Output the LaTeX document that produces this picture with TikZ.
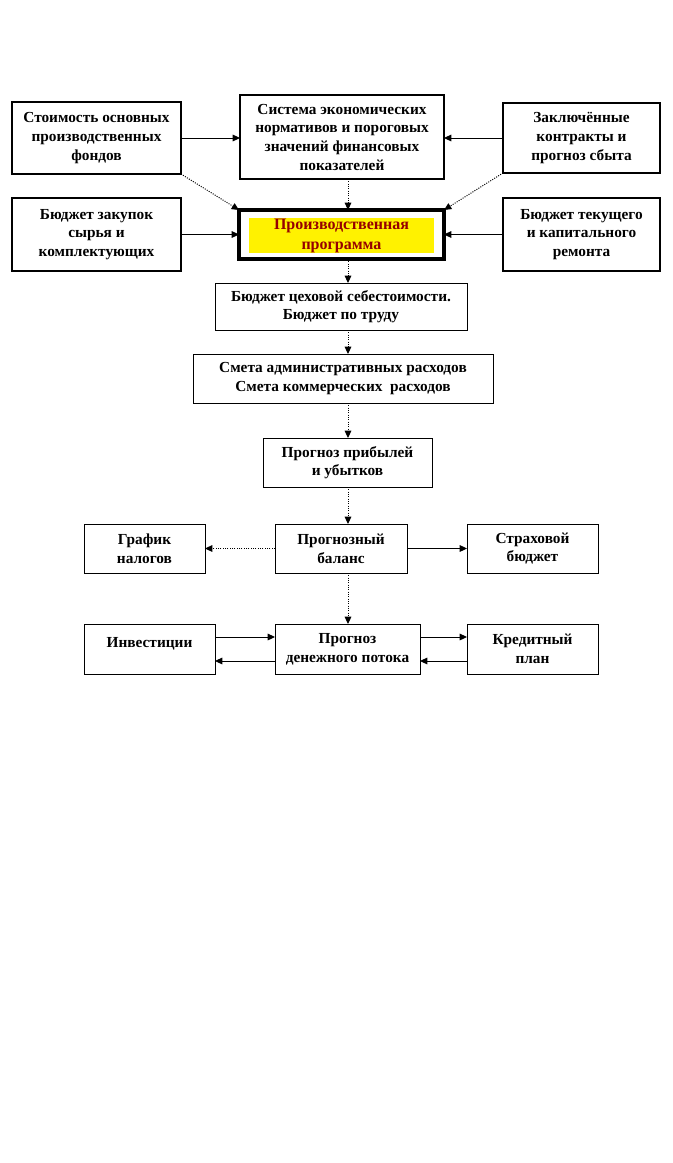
\documentclass[tikz,border=0pt]{standalone}
\usepackage{fontspec}
\setmainfont{Liberation Serif}
\usetikzlibrary{arrows.meta,calc}
\definecolor{progred}{RGB}{150,0,0}
\begin{document}
\begin{tikzpicture}[x=0.75pt,y=-0.75pt,
  every node/.style={font=\bfseries\fontsize{11.5}{14}\selectfont, align=center, inner sep=0pt, outer sep=0pt},
  topbox/.style={draw=black, line width=1.5pt, fill=white},
  lowbox/.style={draw=black, line width=0.75pt, fill=white},
  solidarrow/.style={draw=black, line width=0.75pt, -{Triangle[length=5.5pt,width=5pt]}},
  dotarrow/.style={draw=black, line width=0.75pt, densely dotted, -{Triangle[length=5.5pt,width=5pt]}}
]
\useasboundingbox (0,0) rectangle (672,1163);
\fill[white] (0,0) rectangle (672,1163);
\coordinate (axis) at (348,0);

% top row
\node[topbox, minimum width=126.75pt, minimum height=54pt] (A) at (96.5,138)
  {Стоимость основных\\производственных\\фондов};
\node[topbox, minimum width=153pt, minimum height=63pt] (B) at (342,137)
  {Система экономических\\нормативов и пороговых\\значений финансовых\\показателей};
\node[topbox, minimum width=117.75pt, minimum height=52.5pt] (C) at (581.5,138)
  {Заключённые\\контракты и\\прогноз сбыта};

% second row
\node[topbox, minimum width=126.75pt, minimum height=54.75pt] (D) at (96.5,234.5)
  {Бюджет закупок\\сырья и\\комплектующих};
\node[draw=black, line width=3pt, fill=white, minimum width=153.75pt, minimum height=36.75pt] (E) at (341.5,234.5) {};
\node[fill=yellow, text=progred, minimum width=138.75pt, minimum height=26.25pt,
      font=\bfseries\fontsize{12}{15}\selectfont] (Eh) at (341.5,235.5)
  {Производственная\\программа};
\node[topbox, minimum width=117.75pt, minimum height=54.75pt] (F) at (581.5,234.5)
  {Бюджет текущего\\и капитального\\ремонта};

% central column
\node[lowbox, minimum width=189pt, minimum height=35.25pt] (G) at (341,306.5)
  {Бюджет цеховой себестоимости.\\Бюджет по труду};
\node[lowbox, minimum width=225pt, minimum height=36.75pt] (H) at (343,378.5)
  {Смета административных расходов\\Смета коммерческих~ расходов};
\node[lowbox, minimum width=126.75pt, minimum height=36.75pt] (I) at (347.5,462.5)
  {Прогноз прибылей\\и убытков};

% balance row
\node[lowbox, minimum width=90.75pt, minimum height=36.75pt] (J) at (144.5,548.5)
  {График\\налогов};
\node[lowbox, minimum width=99pt, minimum height=36.75pt] (K) at (341,548.5)
  {Прогнозный\\баланс};
\node[lowbox, minimum width=98.25pt, minimum height=36.75pt] (L) at (532.5,548.5)
  {Страховой\\бюджет};

% cash flow row
\node[lowbox, minimum width=98.25pt, minimum height=37.5pt, text depth=10pt] (M) at (149.5,649)
  {Инвестиции};
\node[lowbox, minimum width=108.75pt, minimum height=37.5pt] (N) at (347.5,649)
  {Прогноз\\денежного потока};
\node[lowbox, minimum width=98.25pt, minimum height=37.5pt] (O) at (532.5,649)
  {Кредитный\\план};

% connectors top
\draw[solidarrow] (A.east) -- (A.east -| B.west);
\draw[solidarrow] (C.west) -- (C.west -| B.east);
\draw[dotarrow] (A.south east) -- (E.north west);
\draw[dotarrow] (C.south west) -- (E.north east);
\draw[solidarrow] (D.east) -- (D.east -| E.west);
\draw[solidarrow] (F.west) -- (F.west -| E.east);
\draw[dotarrow] (B.south -| axis) -- (E.north -| axis);

% central chain
\draw[dotarrow] (E.south -| axis) -- (G.north -| axis);
\draw[dotarrow] (G.south -| axis) -- (H.north -| axis);
\draw[dotarrow] (H.south -| axis) -- (I.north -| axis);
\draw[dotarrow] (I.south -| axis) -- (K.north -| axis);
\draw[dotarrow] (K.south -| axis) -- (N.north -| axis);

% balance row
\draw[dotarrow] (K.west) -- (K.west -| J.east);
\draw[solidarrow] (K.east) -- (K.east -| L.west);

% cash flow row
\coordinate (up) at ($(N.north west)!0.26!(N.south west)$);
\coordinate (dn) at ($(N.north west)!0.74!(N.south west)$);
\draw[solidarrow] (up -| M.east) -- (up -| N.west);
\draw[solidarrow] (dn -| N.west) -- (dn -| M.east);
\draw[solidarrow] (up -| N.east) -- (up -| O.west);
\draw[solidarrow] (dn -| O.west) -- (dn -| N.east);
\end{tikzpicture}
\end{document}
